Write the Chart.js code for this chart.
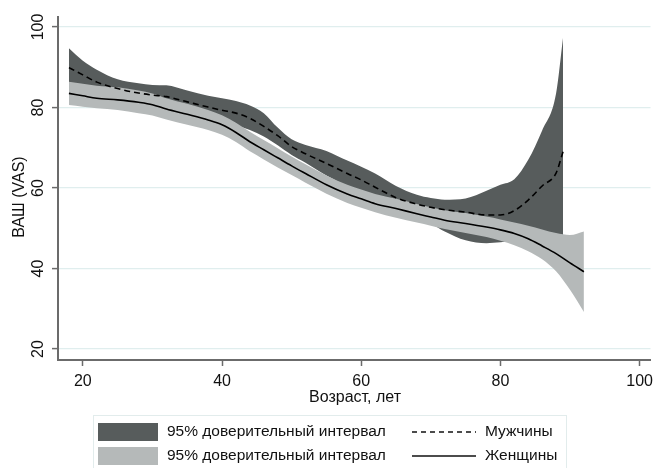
<!DOCTYPE html>
<html>
<head>
<meta charset="utf-8">
<script src="https://cdn.jsdelivr.net/npm/chart.js@4.4.1/dist/chart.umd.min.js"></script>
<style>
  html, body { margin: 0; padding: 0; background: #fff; }
  #c { display: block; }
</style>
</head>
<body>
<canvas id="c" width="659" height="468"></canvas>
<script>
// ages (x) and curve values
const menAge = [18, 20, 22, 25, 28, 30, 32, 35, 38, 40, 42, 44, 46, 48, 50, 52, 55, 58, 60, 62, 65, 68, 70, 72, 75, 78, 80, 82, 84, 86, 88, 89];
const menMean = [89.9, 88.1, 86.3, 84.7, 83.6, 83.1, 82.7, 81.4, 80.1, 79.3, 78.6, 77.3, 75.3, 73.0, 70.3, 68.5, 66.1, 63.6, 62.0, 60.2, 57.6, 56.0, 55.2, 54.6, 54.0, 53.3, 53.3, 54.4, 57.0, 60.5, 63.7, 69.0];
const menHigh = [94.7, 91.6, 89.4, 87.0, 86.0, 85.6, 85.5, 84.2, 82.9, 82.3, 81.6, 80.5, 78.6, 75.0, 72.1, 70.7, 69.2, 66.8, 65.3, 63.6, 60.5, 58.3, 57.5, 57.1, 57.4, 59.3, 60.8, 62.2, 67.0, 74.3, 83.5, 97.3];
const menLow = [85.6, 84.5, 83.3, 82.3, 81.2, 80.5, 79.8, 78.6, 77.3, 76.3, 75.6, 74.4, 72.8, 70.6, 68.2, 66.3, 63.1, 60.4, 58.7, 56.9, 54.8, 52.7, 51.2, 49.2, 47.0, 46.3, 46.5, 46.9, 47.3, 47.7, 48.0, 48.3];

const womenAge = [18, 20, 22, 25, 28, 30, 32, 35, 38, 40, 42, 44, 46, 48, 50, 52, 55, 58, 60, 62, 65, 68, 70, 72, 75, 78, 80, 82, 84, 86, 88, 90, 92];
const womenMean = [83.5, 82.9, 82.3, 81.9, 81.3, 80.7, 79.6, 78.3, 76.9, 75.7, 73.8, 71.5, 69.5, 67.5, 65.5, 63.6, 60.8, 58.5, 57.3, 56.1, 54.9, 53.6, 52.8, 52.0, 51.2, 50.3, 49.6, 48.7, 47.4, 45.6, 43.7, 41.4, 39.2];
const womenHigh = [86.4, 85.9, 85.4, 85.0, 84.2, 83.5, 82.3, 80.9, 79.4, 78.1, 76.2, 74.0, 71.9, 69.9, 67.8, 65.9, 63.1, 60.8, 59.6, 58.5, 57.3, 56.0, 55.2, 54.5, 53.8, 52.9, 52.2, 51.4, 50.6, 49.7, 48.8, 48.3, 49.2];
const womenLow = [80.6, 80.2, 79.8, 79.4, 78.6, 78.0, 77.0, 75.7, 74.4, 73.2, 71.4, 69.1, 67.1, 65.1, 63.2, 61.3, 58.6, 56.3, 55.1, 54.0, 52.6, 51.4, 50.6, 49.8, 48.8, 47.8, 46.9, 45.8, 44.3, 42.3, 39.3, 34.7, 29.2];

const xTicks = [20, 40, 60, 80, 100];
const yTicks = [20, 40, 60, 80, 100];
const xTitle = 'Возраст, лет';
const yTitle = 'ВАШ (VAS)';
const ciLabel = '95% доверительный интервал';
const menLabel = 'Мужчины';
const womenLabel = 'Женщины';

const DARK = '#575c5c';
const LIGHT = '#b5b9b9';
const FONT = '"Liberation Sans", Arial, sans-serif';

const pts = (xs, ys) => xs.map((x, i) => ({ x, y: ys[i] }));

function band(xs, lo, hi, color, order) {
  return [
    { data: pts(xs, lo), borderColor: 'rgba(0,0,0,0)', borderWidth: 0, pointRadius: 0, fill: false, order,
      cubicInterpolationMode: 'monotone' },
    { data: pts(xs, hi), borderColor: 'rgba(0,0,0,0)', borderWidth: 0, pointRadius: 0, fill: '-1',
      backgroundColor: color, order, cubicInterpolationMode: 'monotone' }
  ];
}

// y tick labels, titles and the legend box
const extras = {
  id: 'extras',
  afterDraw(chart) {
    const ctx = chart.ctx;
    const ys = chart.scales.y;
    ctx.save();
    ctx.fillStyle = '#111';
    ctx.font = '16px ' + FONT;
    ctx.textAlign = 'center';
    ctx.textBaseline = 'middle';
    yTicks.forEach(v => {
      ctx.save();
      ctx.translate(39, ys.getPixelForValue(v));
      ctx.rotate(-Math.PI / 2);
      ctx.fillText(String(v), 0, 0);
      ctx.restore();
    });
    ctx.save();
    ctx.translate(20, 197);
    ctx.rotate(-Math.PI / 2);
    ctx.fillText(yTitle, 0, 0);
    ctx.restore();
    ctx.fillText(xTitle, 355, 398);

    // legend
    ctx.strokeStyle = '#e2ecec';
    ctx.lineWidth = 1;
    ctx.strokeRect(93.5, 415.5, 473, 60);
    ctx.fillStyle = DARK;
    ctx.fillRect(98, 423, 60, 18);
    ctx.fillStyle = LIGHT;
    ctx.fillRect(98, 447, 60, 18);
    ctx.fillStyle = '#111';
    ctx.font = '15.5px ' + FONT;
    ctx.textAlign = 'left';
    ctx.fillText(ciLabel, 167, 432);
    ctx.fillText(ciLabel, 167, 456);
    ctx.fillText(menLabel, 485, 432);
    ctx.fillText(womenLabel, 485, 456);
    ctx.strokeStyle = '#111';
    ctx.lineWidth = 1.5;
    ctx.setLineDash([5, 4]);
    ctx.beginPath(); ctx.moveTo(412, 432); ctx.lineTo(476, 432); ctx.stroke();
    ctx.setLineDash([]);
    ctx.beginPath(); ctx.moveTo(412, 456); ctx.lineTo(476, 456); ctx.stroke();
    ctx.restore();
  }
};

new Chart(document.getElementById('c'), {
  type: 'line',
  data: {
    datasets: [
      { data: pts(womenAge, womenMean), borderColor: '#000', borderWidth: 1.6, pointRadius: 0, fill: false,
        order: 0, cubicInterpolationMode: 'monotone' },
      { data: pts(menAge, menMean), borderColor: '#000', borderWidth: 1.6, borderDash: [6, 4], pointRadius: 0,
        fill: false, order: 1, cubicInterpolationMode: 'monotone' },
      ...band(womenAge, womenLow, womenHigh, LIGHT, 2),
      ...band(menAge, menLow, menHigh, DARK, 3)
    ]
  },
  options: {
    responsive: false,
    animation: false,
    devicePixelRatio: 1,
    layout: { padding: { left: 0, top: 17, right: 4, bottom: 0 } },
    plugins: { legend: { display: false }, tooltip: { enabled: false } },
    scales: {
      x: {
        type: 'linear', min: 16.43, max: 101.57,
        afterBuildTicks: s => { s.ticks = xTicks.map(v => ({ value: v })); },
        afterFit: s => { s.height = 108; },
        grid: { drawOnChartArea: false, tickLength: 6, tickColor: '#6b6b6b', tickWidth: 1.5 },
        border: { color: '#6b6b6b', width: 2 },
        ticks: { color: '#111', font: { size: 16, family: FONT }, padding: 6, maxRotation: 0 }
      },
      y: {
        type: 'linear', min: 17.27, max: 102.48,
        afterBuildTicks: s => { s.ticks = yTicks.map(v => ({ value: v })); },
        afterFit: s => { s.width = 58; },
        grid: { color: '#e0eeee', lineWidth: 1.2, tickLength: 6, tickColor: '#6b6b6b', tickWidth: 1.5 },
        border: { color: '#6b6b6b', width: 2 },
        ticks: { display: false }
      }
    }
  },
  plugins: [extras]
});
</script>
</body>
</html>
